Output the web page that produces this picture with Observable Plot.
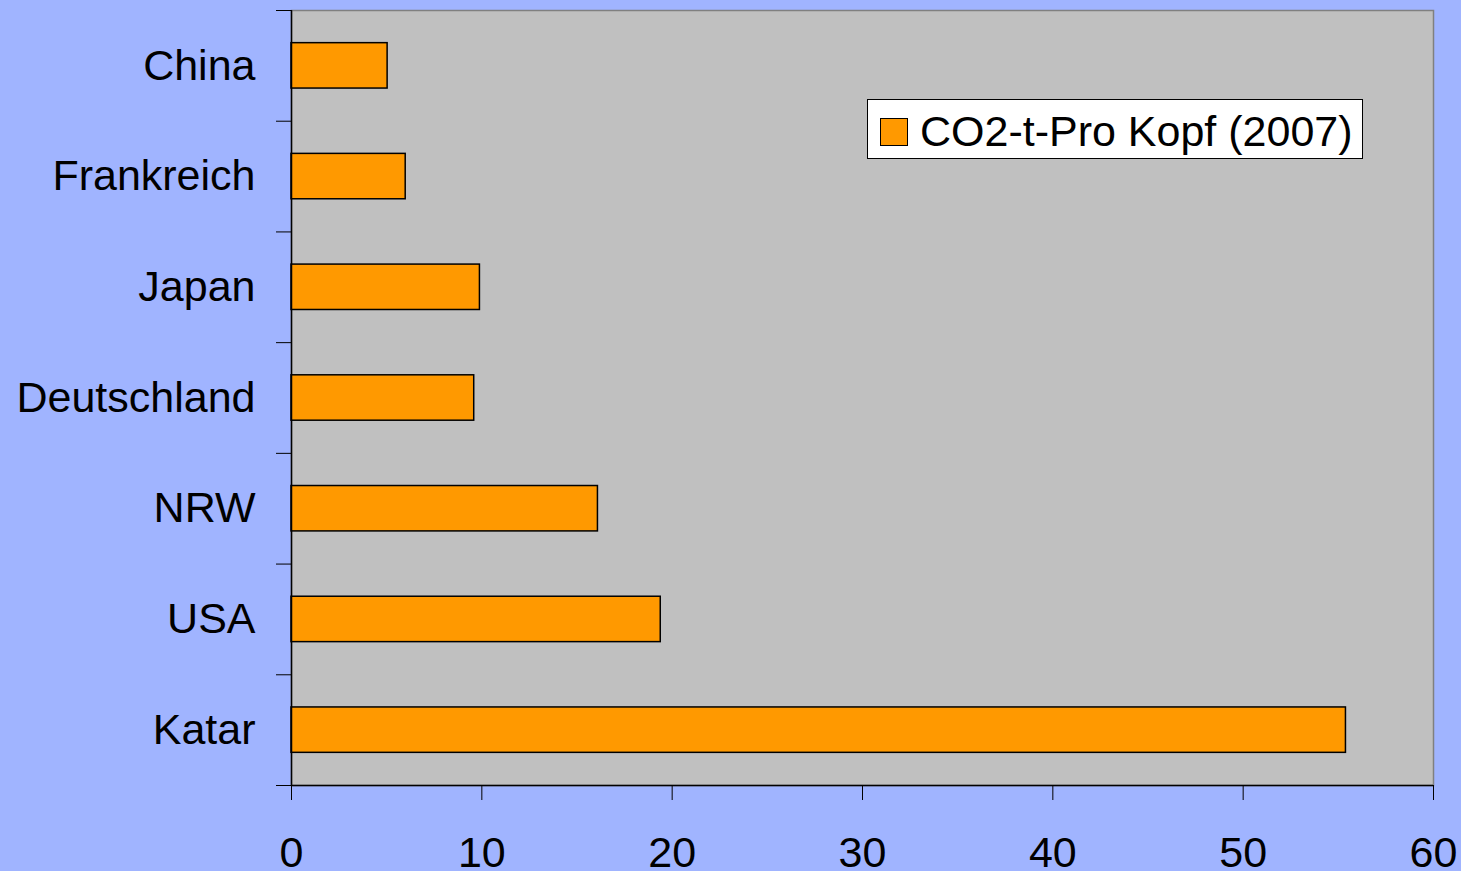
<!DOCTYPE html>
<html>
<head>
<meta charset="utf-8">
<script src="https://cdn.jsdelivr.net/npm/d3@7"></script>
<script src="https://cdn.jsdelivr.net/npm/@observablehq/plot@0.6"></script>
<style>
  html, body { margin: 0; padding: 0; background: #a0b4ff; }
  #wrap { position: relative; width: 1461px; height: 871px; overflow: hidden; }
  #legend {
    position: absolute; left: 867px; top: 99px; width: 494px; height: 58px;
    background: #ffffff; border: 1px solid #000; box-sizing: content-box;
    font-family: "Liberation Sans", Arial, sans-serif; font-size: 43px; color: #000;
  }
  #legend .sw {
    position: absolute; left: 12px; top: 18px; width: 26px; height: 26px;
    background: #ff9900; border: 1px solid #000;
  }
  #legend .lbl { position: absolute; left: 52px; top: 6px; white-space: nowrap; line-height: 50px; }
</style>
</head>
<body>
<div id="wrap"></div>
<script>
const categories = ["China", "Frankreich", "Japan", "Deutschland", "NRW", "USA", "Katar"];
const values = [5.05, 6.0, 9.9, 9.6, 16.1, 19.4, 55.4];
const seriesName = "CO2-t-Pro Kopf (2007)";
const xTicks = [0, 10, 20, 30, 40, 50, 60];

const data = categories.map((c, i) => ({category: c, index: i, value: values[i]}));
const n = categories.length;
const boundaries = d3.range(n + 1).map(i => i - 0.5);
const half = 0.205;

const chart = Plot.plot({
  width: 1461,
  height: 871,
  marginLeft: 291,
  marginRight: 28,
  marginTop: 10,
  marginBottom: 86,
  style: {background: "#a0b4ff", fontFamily: "'Liberation Sans', Arial, sans-serif", fontSize: "43px", color: "#000", overflow: "visible"},
  x: {type: "linear", domain: [0, 60]},
  y: {type: "linear", domain: [n - 0.5, -0.5]},
  marks: [
    Plot.frame({fill: "#c0c0c0", stroke: "#808080", strokeWidth: 1.5}),
    Plot.rectX(data, {x1: 0, x2: "value", y1: d => d.index - half, y2: d => d.index + half, fill: "#ff9900", stroke: "#000", strokeWidth: 1.5}),
    Plot.ruleX([0], {stroke: "#000", strokeWidth: 1.5}),
    Plot.ruleY([n - 0.5], {stroke: "#000", strokeWidth: 1.5}),
    Plot.axisX({ticks: xTicks, tickSize: 15, tickPadding: 36, tickFormat: d => String(d), fontSize: 43, stroke: "#000", label: null}),
    Plot.axisY({ticks: boundaries, tickSize: 15, tickFormat: () => "", stroke: "#000", label: null}),
    Plot.axisY({ticks: d3.range(n), tickSize: 0, tickPadding: 36, tickFormat: i => categories[i], fontSize: 43, label: null})
  ]
});

const wrap = document.getElementById("wrap");
wrap.appendChild(chart);
const legend = document.createElement("div");
legend.id = "legend";
legend.innerHTML = '<div class="sw"></div><div class="lbl"></div>';
legend.querySelector(".lbl").textContent = seriesName;
wrap.appendChild(legend);
</script>
</body>
</html>
